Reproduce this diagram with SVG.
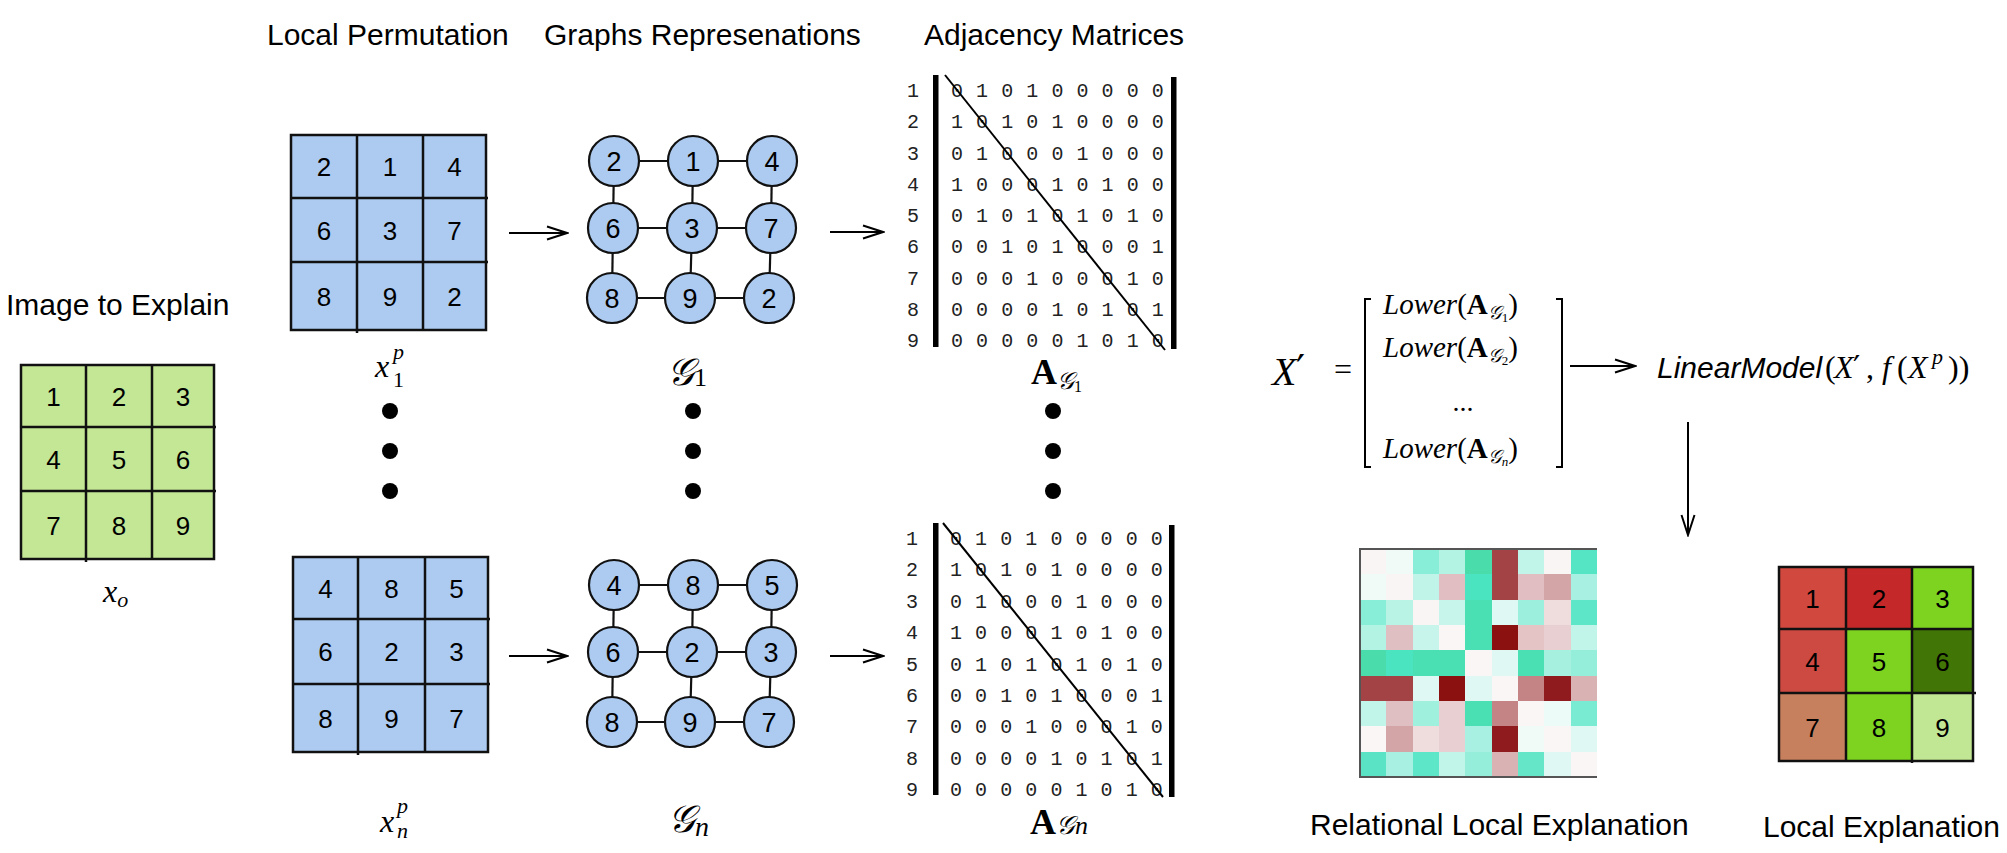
<svg xmlns="http://www.w3.org/2000/svg" width="2007" height="853" viewBox="0 0 2007 853">
<defs>
<style>
.t{font-family:"Liberation Sans",Arial,sans-serif;font-size:30px;fill:#000}
.d{font-family:"Liberation Sans",Arial,sans-serif;font-size:26px;fill:#000;text-anchor:middle}
.nd{font-family:"Liberation Sans",Arial,sans-serif;font-size:27px;fill:#000;text-anchor:middle}
.m{font-family:"Liberation Mono","DejaVu Sans Mono",monospace;font-size:20px;fill:#222;letter-spacing:0.55px}
.rl{font-family:"Liberation Mono","DejaVu Sans Mono",monospace;font-size:20px;fill:#222;text-anchor:middle}
.mi{font-family:"Liberation Serif","DejaVu Serif",serif;font-style:italic;fill:#000}
.mr{font-family:"Liberation Serif","DejaVu Serif",serif;fill:#000}
.pr{font-family:"DejaVu Sans",sans-serif;fill:#000}
.gl{stroke:#111;stroke-width:2.5;fill:none}
.blue{fill:#adcbf1}
.green{fill:#c3e795}
.node{fill:#adcbf1;stroke:#111;stroke-width:2.2}
.edge{stroke:#111;stroke-width:2.2}
.arr{stroke:#000;stroke-width:2;fill:none;marker-end:url(#ah)}
.bar{fill:#000}
.dot{fill:#000}
.diag{stroke:#000;stroke-width:2}
</style>
<marker id="ah" markerUnits="userSpaceOnUse" markerWidth="24" markerHeight="16" viewBox="0 0 24 16" refX="22" refY="8" orient="auto">
<path d="M2,1.5 L22,8 L2,14.5" fill="none" stroke="#000" stroke-width="2"/>
</marker>
</defs>
<rect width="2007" height="853" fill="#fff"/>

<!-- titles -->
<g id="titles">
<text class="t" x="6" y="315">Image to Explain</text>
<text class="t" x="267" y="45">Local Permutation</text>
<text class="t" x="544" y="45">Graphs Represenations</text>
<text class="t" x="924" y="45">Adjacency Matrices</text>
<text class="t" x="1310" y="835">Relational Local Explanation</text>
<text class="t" x="1763" y="837">Local Explanation</text>
</g>

<!-- Image to explain -->
<g id="image-xo">
<rect class="green" x="21" y="365" width="193" height="194"/>
<rect class="gl" x="21" y="365" width="193" height="194"/>
<path class="gl" d="M86,365 V562 M152,365 V559 M21,427 H216 M21,491 H216"/>
<text class="d" x="53.5" y="405.5">1</text><text class="d" x="119" y="405.5">2</text><text class="d" x="183" y="405.5">3</text>
<text class="d" x="53.5" y="468.5">4</text><text class="d" x="119" y="468.5">5</text><text class="d" x="183" y="468.5">6</text>
<text class="d" x="53.5" y="534.5">7</text><text class="d" x="119" y="534.5">8</text><text class="d" x="183" y="534.5">9</text>
<text class="mi" x="103" y="602" font-size="32">x<tspan font-size="22" dy="5">o</tspan></text>
</g>

<!-- Permutation 1 -->
<g id="perm-1">
<rect class="blue" x="291" y="135" width="195" height="195"/>
<rect class="gl" x="291" y="135" width="195" height="195"/>
<path class="gl" d="M357,135 V333 M423,135 V330 M291,198 H488 M291,262 H488"/>
<text class="d" x="324" y="176">2</text><text class="d" x="390" y="176">1</text><text class="d" x="454.5" y="176">4</text>
<text class="d" x="324" y="239.5">6</text><text class="d" x="390" y="239.5">3</text><text class="d" x="454.5" y="239.5">7</text>
<text class="d" x="324" y="305.5">8</text><text class="d" x="390" y="305.5">9</text><text class="d" x="454.5" y="305.5">2</text>
<text class="mi" x="375" y="377" font-size="32">x</text>
<text class="mi" x="393" y="359" font-size="22">p</text>
<text class="mr" x="393" y="387" font-size="22">1</text>
</g>

<!-- Permutation n -->
<g id="perm-n">
<rect class="blue" x="293" y="557" width="195" height="195"/>
<rect class="gl" x="293" y="557" width="195" height="195"/>
<path class="gl" d="M358,557 V755 M425,557 V752 M293,619 H490 M293,684 H490"/>
<text class="d" x="325.5" y="597.5">4</text><text class="d" x="391.5" y="597.5">8</text><text class="d" x="456.5" y="597.5">5</text>
<text class="d" x="325.5" y="661">6</text><text class="d" x="391.5" y="661">2</text><text class="d" x="456.5" y="661">3</text>
<text class="d" x="325.5" y="727.5">8</text><text class="d" x="391.5" y="727.5">9</text><text class="d" x="456.5" y="727.5">7</text>
<text class="mi" x="380" y="832" font-size="32">x</text>
<text class="mi" x="397" y="813" font-size="22">p</text>
<text class="mi" x="397" y="838" font-size="22">n</text>
</g>

<!-- connectors -->
<g id="connectors">
<g id="edges-graph-1">
<line class="edge" x1="614" y1="161" x2="693" y2="161"/><line class="edge" x1="693" y1="161" x2="772" y2="161"/>
<line class="edge" x1="613" y1="228" x2="692" y2="228"/><line class="edge" x1="692" y1="228" x2="771" y2="228"/>
<line class="edge" x1="612" y1="298" x2="690" y2="298"/><line class="edge" x1="690" y1="298" x2="769" y2="298"/>
<line class="edge" x1="614" y1="161" x2="613" y2="228"/><line class="edge" x1="613" y1="228" x2="612" y2="298"/>
<line class="edge" x1="693" y1="161" x2="692" y2="228"/><line class="edge" x1="692" y1="228" x2="690" y2="298"/>
<line class="edge" x1="772" y1="161" x2="771" y2="228"/><line class="edge" x1="771" y1="228" x2="769" y2="298"/>
</g>
<g id="edges-graph-n">
<line class="edge" x1="614" y1="585" x2="693" y2="585"/><line class="edge" x1="693" y1="585" x2="772" y2="585"/>
<line class="edge" x1="613" y1="652" x2="692" y2="652"/><line class="edge" x1="692" y1="652" x2="771" y2="652"/>
<line class="edge" x1="612" y1="722" x2="690" y2="722"/><line class="edge" x1="690" y1="722" x2="769" y2="722"/>
<line class="edge" x1="614" y1="585" x2="613" y2="652"/><line class="edge" x1="613" y1="652" x2="612" y2="722"/>
<line class="edge" x1="693" y1="585" x2="692" y2="652"/><line class="edge" x1="692" y1="652" x2="690" y2="722"/>
<line class="edge" x1="772" y1="585" x2="771" y2="652"/><line class="edge" x1="771" y1="652" x2="769" y2="722"/>
</g>
<line class="arr" x1="509" y1="233" x2="567" y2="233"/>
<line class="arr" x1="830" y1="232" x2="883" y2="232"/>
<line class="arr" x1="509" y1="656" x2="567" y2="656"/>
<line class="arr" x1="830" y1="656" x2="883" y2="656"/>
<line class="arr" x1="1570" y1="366" x2="1635" y2="366"/>
<line class="arr" x1="1688" y1="422" x2="1688" y2="535"/>
</g>

<!-- Graph 1 -->
<g id="graph-1">
<circle class="node" cx="614" cy="161" r="25"/><circle class="node" cx="693" cy="161" r="25"/><circle class="node" cx="772" cy="161" r="25"/>
<circle class="node" cx="613" cy="228" r="25"/><circle class="node" cx="692" cy="228" r="25"/><circle class="node" cx="771" cy="228" r="25"/>
<circle class="node" cx="612" cy="298" r="25"/><circle class="node" cx="690" cy="298" r="25"/><circle class="node" cx="769" cy="298" r="25"/>
<text class="nd" x="614" y="170.5">2</text><text class="nd" x="693" y="170.5">1</text><text class="nd" x="772" y="170.5">4</text>
<text class="nd" x="613" y="237.5">6</text><text class="nd" x="692" y="237.5">3</text><text class="nd" x="771" y="237.5">7</text>
<text class="nd" x="612" y="307.5">8</text><text class="nd" x="690" y="307.5">9</text><text class="nd" x="769" y="307.5">2</text>
<text class="mi" x="667" y="385" font-size="38">𝒢<tspan class="mr" font-style="normal" font-size="26" dy="1">1</tspan></text>
</g>

<!-- Graph n -->
<g id="graph-n">
<circle class="node" cx="614" cy="585" r="25"/><circle class="node" cx="693" cy="585" r="25"/><circle class="node" cx="772" cy="585" r="25"/>
<circle class="node" cx="613" cy="652" r="25"/><circle class="node" cx="692" cy="652" r="25"/><circle class="node" cx="771" cy="652" r="25"/>
<circle class="node" cx="612" cy="722" r="25"/><circle class="node" cx="690" cy="722" r="25"/><circle class="node" cx="769" cy="722" r="25"/>
<text class="nd" x="614" y="594.5">4</text><text class="nd" x="693" y="594.5">8</text><text class="nd" x="772" y="594.5">5</text>
<text class="nd" x="613" y="661.5">6</text><text class="nd" x="692" y="661.5">2</text><text class="nd" x="771" y="661.5">3</text>
<text class="nd" x="612" y="731.5">8</text><text class="nd" x="690" y="731.5">9</text><text class="nd" x="769" y="731.5">7</text>
<text class="mi" x="668" y="832" font-size="38">𝒢<tspan font-size="28" dy="4">n</tspan></text>
</g>

<!-- ellipsis dots -->
<g id="ellipsis">
<circle class="dot" cx="390" cy="411" r="8"/><circle class="dot" cx="390" cy="451" r="8"/><circle class="dot" cx="390" cy="491" r="8"/>
<circle class="dot" cx="693" cy="411" r="8"/><circle class="dot" cx="693" cy="451" r="8"/><circle class="dot" cx="693" cy="491" r="8"/>
<circle class="dot" cx="1053" cy="411" r="8"/><circle class="dot" cx="1053" cy="451" r="8"/><circle class="dot" cx="1053" cy="491" r="8"/>
</g>

<!-- Adjacency matrix 1 -->
<g id="matrix-1">
<rect class="bar" x="933" y="75" width="5.5" height="272"/>
<rect class="bar" x="1171" y="77" width="5.5" height="272"/>
<text class="rl" x="913" y="97">1</text><text class="rl" x="913" y="128.3">2</text><text class="rl" x="913" y="159.5">3</text>
<text class="rl" x="913" y="190.8">4</text><text class="rl" x="913" y="222">5</text><text class="rl" x="913" y="253.3">6</text>
<text class="rl" x="913" y="284.5">7</text><text class="rl" x="913" y="315.8">8</text><text class="rl" x="913" y="347">9</text>
<text class="m" x="951" y="97">0 1 0 1 0 0 0 0 0</text>
<text class="m" x="951" y="128.3">1 0 1 0 1 0 0 0 0</text>
<text class="m" x="951" y="159.5">0 1 0 0 0 1 0 0 0</text>
<text class="m" x="951" y="190.8">1 0 0 0 1 0 1 0 0</text>
<text class="m" x="951" y="222">0 1 0 1 0 1 0 1 0</text>
<text class="m" x="951" y="253.3">0 0 1 0 1 0 0 0 1</text>
<text class="m" x="951" y="284.5">0 0 0 1 0 0 0 1 0</text>
<text class="m" x="951" y="315.8">0 0 0 0 1 0 1 0 1</text>
<text class="m" x="951" y="347">0 0 0 0 0 1 0 1 0</text>
<line class="diag" x1="945" y1="75" x2="1165" y2="350"/>
<text class="mr" x="1031" y="384" font-size="36" font-weight="bold">A<tspan class="mi" font-weight="normal" font-size="24" dy="5">𝒢</tspan><tspan class="mr" font-weight="normal" font-size="16" dy="3">1</tspan></text>
</g>

<!-- Adjacency matrix n -->
<g id="matrix-n">
<rect class="bar" x="933" y="523" width="5.5" height="272"/>
<rect class="bar" x="1169" y="525" width="5.5" height="272"/>
<text class="rl" x="912" y="545">1</text><text class="rl" x="912" y="576.4">2</text><text class="rl" x="912" y="607.8">3</text>
<text class="rl" x="912" y="639.1">4</text><text class="rl" x="912" y="670.5">5</text><text class="rl" x="912" y="701.9">6</text>
<text class="rl" x="912" y="733.3">7</text><text class="rl" x="912" y="764.6">8</text><text class="rl" x="912" y="796">9</text>
<text class="m" x="950" y="545">0 1 0 1 0 0 0 0 0</text>
<text class="m" x="950" y="576.4">1 0 1 0 1 0 0 0 0</text>
<text class="m" x="950" y="607.8">0 1 0 0 0 1 0 0 0</text>
<text class="m" x="950" y="639.1">1 0 0 0 1 0 1 0 0</text>
<text class="m" x="950" y="670.5">0 1 0 1 0 1 0 1 0</text>
<text class="m" x="950" y="701.9">0 0 1 0 1 0 0 0 1</text>
<text class="m" x="950" y="733.3">0 0 0 1 0 0 0 1 0</text>
<text class="m" x="950" y="764.6">0 0 0 0 1 0 1 0 1</text>
<text class="m" x="950" y="796">0 0 0 0 0 1 0 1 0</text>
<line class="diag" x1="943" y1="523" x2="1163" y2="797"/>
<text class="mr" x="1030" y="834" font-size="36" font-weight="bold">A<tspan class="mi" font-weight="normal" font-size="26" dy="0">𝒢n</tspan></text>
</g>

<!-- Formula X' -->
<g id="formula">
<text class="mi" x="1272" y="385" font-size="40">X</text>
<text class="pr" x="1296" y="384" font-size="40">′</text>
<text class="mr" x="1334" y="380" font-size="32">=</text>
<path d="M1371,299 H1365 V467 H1371 M1556,299 H1562 V467 H1556" fill="none" stroke="#000" stroke-width="2"/>
<text class="mr" x="1383" y="314" font-size="29"><tspan class="mi">Lower</tspan>(<tspan font-weight="bold">A</tspan><tspan class="mi" font-size="19" dy="5">𝒢</tspan><tspan font-size="13" dy="3">1</tspan><tspan dy="-8">)</tspan></text>
<text class="mr" x="1383" y="357" font-size="29"><tspan class="mi">Lower</tspan>(<tspan font-weight="bold">A</tspan><tspan class="mi" font-size="19" dy="5">𝒢</tspan><tspan font-size="13" dy="3">2</tspan><tspan dy="-8">)</tspan></text>
<text class="mr" x="1463" y="411" font-size="28" text-anchor="middle">...</text>
<text class="mr" x="1383" y="458" font-size="29"><tspan class="mi">Lower</tspan>(<tspan font-weight="bold">A</tspan><tspan class="mi" font-size="19" dy="5">𝒢</tspan><tspan class="mi" font-size="13" dy="3">n</tspan><tspan dy="-8">)</tspan></text>
</g>

<!-- Linear model -->
<g id="linear-model">
<text x="1657" y="378" font-size="30" font-family="Liberation Sans, Arial, sans-serif" font-style="italic">LinearModel</text>
<text class="mr" x="1825" y="378" font-size="32">(</text>
<text class="mi" x="1834" y="378" font-size="32">X</text>
<text class="pr" x="1853" y="378" font-size="32">′</text>
<text class="mr" x="1866" y="378" font-size="32">,</text>
<text class="mi" x="1882" y="378" font-size="32">f</text>
<text class="mr" x="1897" y="378" font-size="32">(</text>
<text class="mi" x="1908" y="378" font-size="32">X</text>
<text class="mi" x="1932" y="364" font-size="22">p</text>
<text class="mr" x="1948" y="378" font-size="32">))</text>
</g>

<!-- Relational local explanation heatmap -->
<g id="relational-explanation">
<g shape-rendering="crispEdges">
<rect x="1360" y="549" width="26.5" height="25.5" fill="#faf5f5"/><rect x="1386.3" y="549" width="26.5" height="25.5" fill="#f0fbf7"/><rect x="1412.7" y="549" width="26.5" height="25.5" fill="#88eed8"/><rect x="1439" y="549" width="26.5" height="25.5" fill="#b2f3e4"/><rect x="1465.3" y="549" width="26.5" height="25.5" fill="#4adcaa"/><rect x="1491.7" y="549" width="26.5" height="25.5" fill="#a34346"/><rect x="1518" y="549" width="26.5" height="25.5" fill="#c2f5e9"/><rect x="1544.3" y="549" width="26.5" height="25.5" fill="#faf5f5"/><rect x="1570.7" y="549" width="26.5" height="25.5" fill="#55e4c4"/>
<rect x="1360" y="574.3" width="26.5" height="25.5" fill="#f0fbf7"/><rect x="1386.3" y="574.3" width="26.5" height="25.5" fill="#faf5f5"/><rect x="1412.7" y="574.3" width="26.5" height="25.5" fill="#c1f4e8"/><rect x="1439" y="574.3" width="26.5" height="25.5" fill="#e0bec1"/><rect x="1465.3" y="574.3" width="26.5" height="25.5" fill="#4be4c1"/><rect x="1491.7" y="574.3" width="26.5" height="25.5" fill="#a34346"/><rect x="1518" y="574.3" width="26.5" height="25.5" fill="#e0bec1"/><rect x="1544.3" y="574.3" width="26.5" height="25.5" fill="#d4a5a6"/><rect x="1570.7" y="574.3" width="26.5" height="25.5" fill="#a8f1e2"/>
<rect x="1360" y="599.7" width="26.5" height="25.5" fill="#88eed8"/><rect x="1386.3" y="599.7" width="26.5" height="25.5" fill="#b8f3e6"/><rect x="1412.7" y="599.7" width="26.5" height="25.5" fill="#faf5f5"/><rect x="1439" y="599.7" width="26.5" height="25.5" fill="#c8f5eb"/><rect x="1465.3" y="599.7" width="26.5" height="25.5" fill="#4be0b4"/><rect x="1491.7" y="599.7" width="26.5" height="25.5" fill="#e0f8f3"/><rect x="1518" y="599.7" width="26.5" height="25.5" fill="#9cefdc"/><rect x="1544.3" y="599.7" width="26.5" height="25.5" fill="#efdcdd"/><rect x="1570.7" y="599.7" width="26.5" height="25.5" fill="#5de6c8"/>
<rect x="1360" y="625" width="26.5" height="25.5" fill="#b2f3e4"/><rect x="1386.3" y="625" width="26.5" height="25.5" fill="#e0bfc2"/><rect x="1412.7" y="625" width="26.5" height="25.5" fill="#c8f5eb"/><rect x="1439" y="625" width="26.5" height="25.5" fill="#faf6f6"/><rect x="1465.3" y="625" width="26.5" height="25.5" fill="#4be0b4"/><rect x="1491.7" y="625" width="26.5" height="25.5" fill="#8b1010"/><rect x="1518" y="625" width="26.5" height="25.5" fill="#e5c4c6"/><rect x="1544.3" y="625" width="26.5" height="25.5" fill="#e8cfd1"/><rect x="1570.7" y="625" width="26.5" height="25.5" fill="#c2f5e9"/>
<rect x="1360" y="650.3" width="26.5" height="25.5" fill="#4adcaa"/><rect x="1386.3" y="650.3" width="26.5" height="25.5" fill="#4be4c1"/><rect x="1412.7" y="650.3" width="26.5" height="25.5" fill="#4be0b4"/><rect x="1439" y="650.3" width="26.5" height="25.5" fill="#4be0b4"/><rect x="1465.3" y="650.3" width="26.5" height="25.5" fill="#faf6f6"/><rect x="1491.7" y="650.3" width="26.5" height="25.5" fill="#e0f8f3"/><rect x="1518" y="650.3" width="26.5" height="25.5" fill="#4be0b4"/><rect x="1544.3" y="650.3" width="26.5" height="25.5" fill="#a5f0df"/><rect x="1570.7" y="650.3" width="26.5" height="25.5" fill="#94eed9"/>
<rect x="1360" y="675.7" width="26.5" height="25.5" fill="#a34346"/><rect x="1386.3" y="675.7" width="26.5" height="25.5" fill="#a34346"/><rect x="1412.7" y="675.7" width="26.5" height="25.5" fill="#e0f8f3"/><rect x="1439" y="675.7" width="26.5" height="25.5" fill="#8b1010"/><rect x="1465.3" y="675.7" width="26.5" height="25.5" fill="#e0f8f3"/><rect x="1491.7" y="675.7" width="26.5" height="25.5" fill="#faf6f6"/><rect x="1518" y="675.7" width="26.5" height="25.5" fill="#c48486"/><rect x="1544.3" y="675.7" width="26.5" height="25.5" fill="#901b1e"/><rect x="1570.7" y="675.7" width="26.5" height="25.5" fill="#d9b3b4"/>
<rect x="1360" y="701" width="26.5" height="25.5" fill="#c2f5e9"/><rect x="1386.3" y="701" width="26.5" height="25.5" fill="#e0bfc2"/><rect x="1412.7" y="701" width="26.5" height="25.5" fill="#a0f0de"/><rect x="1439" y="701" width="26.5" height="25.5" fill="#e8cfd1"/><rect x="1465.3" y="701" width="26.5" height="25.5" fill="#4be0b4"/><rect x="1491.7" y="701" width="26.5" height="25.5" fill="#c48486"/><rect x="1518" y="701" width="26.5" height="25.5" fill="#faf6f6"/><rect x="1544.3" y="701" width="26.5" height="25.5" fill="#ecfbf7"/><rect x="1570.7" y="701" width="26.5" height="25.5" fill="#78ebd2"/>
<rect x="1360" y="726.3" width="26.5" height="25.5" fill="#faf6f6"/><rect x="1386.3" y="726.3" width="26.5" height="25.5" fill="#d4a5a6"/><rect x="1412.7" y="726.3" width="26.5" height="25.5" fill="#efdcdd"/><rect x="1439" y="726.3" width="26.5" height="25.5" fill="#e8cfd1"/><rect x="1465.3" y="726.3" width="26.5" height="25.5" fill="#a8f1e2"/><rect x="1491.7" y="726.3" width="26.5" height="25.5" fill="#901b1e"/><rect x="1518" y="726.3" width="26.5" height="25.5" fill="#f0fbf7"/><rect x="1544.3" y="726.3" width="26.5" height="25.5" fill="#faf6f6"/><rect x="1570.7" y="726.3" width="26.5" height="25.5" fill="#e0f8f3"/>
<rect x="1360" y="751.7" width="26.5" height="25.3" fill="#5ae4c5"/><rect x="1386.3" y="751.7" width="26.5" height="25.3" fill="#a8f1e2"/><rect x="1412.7" y="751.7" width="26.5" height="25.3" fill="#5de6c8"/><rect x="1439" y="751.7" width="26.5" height="25.3" fill="#c2f5e9"/><rect x="1465.3" y="751.7" width="26.5" height="25.3" fill="#94eed9"/><rect x="1491.7" y="751.7" width="26.5" height="25.3" fill="#d9b3b4"/><rect x="1518" y="751.7" width="26.5" height="25.3" fill="#66e6c9"/><rect x="1544.3" y="751.7" width="26.5" height="25.3" fill="#e0f8f3"/><rect x="1570.7" y="751.7" width="26.5" height="25.3" fill="#faf6f6"/>
</g>
<path d="M1597,549 H1360 V777 H1597" fill="none" stroke="#555" stroke-width="2"/>
</g>

<!-- Local explanation -->
<g id="local-explanation">
<rect x="1779" y="567" width="67" height="62" fill="#d1483e"/><rect x="1846" y="567" width="66" height="62" fill="#c42828"/><rect x="1912" y="567" width="61" height="62" fill="#7ed321"/>
<rect x="1779" y="629" width="67" height="64" fill="#cc4a42"/><rect x="1846" y="629" width="66" height="64" fill="#7ed321"/><rect x="1912" y="629" width="61" height="64" fill="#417505"/>
<rect x="1779" y="693" width="67" height="68" fill="#c7805e"/><rect x="1846" y="693" width="66" height="68" fill="#7ed321"/><rect x="1912" y="693" width="61" height="68" fill="#c2e794"/>
<rect class="gl" x="1779" y="567" width="194" height="194"/>
<path class="gl" d="M1846,567 V761 M1912,567 V763 M1779,629 H1973 M1779,693 H1976"/>
<text class="d" x="1812.5" y="607.5">1</text><text class="d" x="1879" y="607.5">2</text><text class="d" x="1942.5" y="607.5">3</text>
<text class="d" x="1812.5" y="670.5">4</text><text class="d" x="1879" y="670.5">5</text><text class="d" x="1942.5" y="670.5">6</text>
<text class="d" x="1812.5" y="736.5">7</text><text class="d" x="1879" y="736.5">8</text><text class="d" x="1942.5" y="736.5">9</text>
</g>
</svg>
